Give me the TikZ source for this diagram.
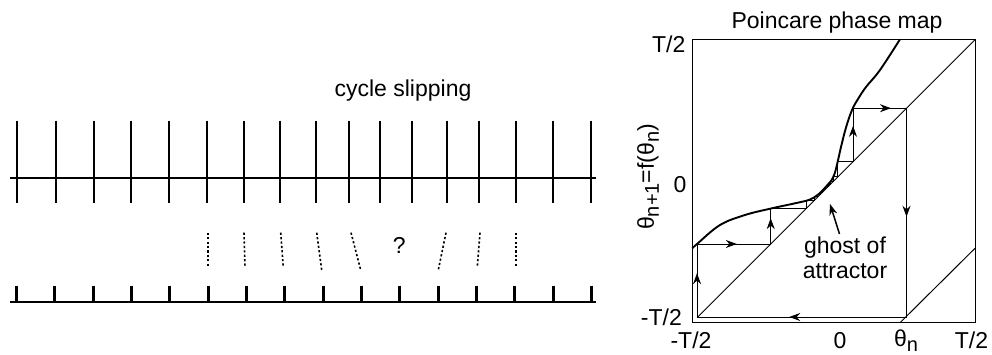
\documentclass[tikz,border=0pt]{standalone}
\usepackage{fontspec}
\setmainfont{Liberation Sans}
\usetikzlibrary{arrows.meta,decorations.markings}
\newcommand{\sbn}[1]{\raisebox{-0.22em}{\fontsize{20}{24}\selectfont #1}}
\begin{document}
\begin{tikzpicture}[x=1pt,y=-1pt,
  lbl/.style={font=\fontsize{23}{25}\selectfont, inner sep=0pt},
  topt/.style={line width=1.5pt},
  bott/.style={line width=3pt},
  baseln/.style={line width=1.3pt},
  dsh/.style={line width=1.6pt, dash pattern=on 2.2pt off 2.2pt},
  cob/.style={line width=1pt},
  boxln/.style={line width=1pt},
  curveln/.style={line width=1.9pt, line join=round},
  midarrow/.style={postaction={decorate}, decoration={markings, mark=at position #1 with {\arrow{Stealth[length=11pt,width=8pt]}}}}
]
\useasboundingbox (0,0) rectangle (992,355);

% ---------- left panel ----------
\node[lbl] (title1) at (403,91) {cycle slipping};

\draw[baseln] (10,178) -- (596,178);
\foreach \x in {17,56,94,131,169,207,244,280,316,349,380,412,447,479,516,553,591}
  \draw[topt] (\x,120.7) -- (\x,202.7);

\draw[baseln] (10,302) -- (596,302);
\foreach \x in {16,54,93,131,169,208,246,284,323,361,399,438,476,514,553,591}
  \draw[bott] (\x,285.7) -- (\x,302.5);

\draw[dsh] (208,232.7) -- (208,266.7);
\draw[dsh] (244,232.7) -- (245,266.7);
\draw[dsh] (280.7,232.7) -- (283.3,267.7);
\draw[dsh] (316.7,232.7) -- (321.7,270);
\draw[dsh] (351,232.7) -- (360.7,270);
\draw[dsh] (446,232.7) -- (438.3,270);
\draw[dsh] (480,232.7) -- (477.3,267);
\draw[dsh] (516,232.7) -- (516,267);
\node[lbl] (q) at (399.3,245) {?};

% ---------- right panel ----------
\node[lbl] (title2) at (837,23) {Poincare phase map};
\draw[boxln] (692.3,39.3) rectangle (975,322.7);

% axis labels
\node[lbl, anchor=east] (yT) at (685.5,44) {T/2};
\node[lbl, anchor=east] (y0) at (686.5,185) {0};
\node[lbl, anchor=east] (ymT) at (682,317.5) {-T/2};
\node[lbl] (xmT) at (691,340.5) {-T/2};
\node[lbl] (x0) at (840,340.5) {0};
\node[lbl] (xT) at (971.5,340.5) {T/2};
\node[lbl] (xth) at (906,341) {θ\sbn{n}};
\node[lbl, rotate=90] (ylab) at (648,177) {θ\sbn{n+1}=f(θ\sbn{n})};

% diagonal and wrapped branch
\draw[boxln] (697.4,317.3) -- (975,39.7);
\draw[boxln] (900,322.7) -- (975,248.3);

% the map
\draw[curveln] plot[smooth, tension=0.6] coordinates {
  (692.3,248.3) (697,244) (720,225) (745,215) (771,208.5) (795,203.3)
  (810,199.5) (820,193) (827,185.5) (831,181) (834.5,174) (837.5,162.5)
  (841,147) (846,127.5) (852,110) (858,99) (866,87) (880,70) (900,39.3)};

% cobweb
\coordinate (c0) at (697,317);
\coordinate (c1) at (697,244);
\coordinate (c2) at (770.7,244);
\coordinate (c3) at (770.7,208.6);
\coordinate (s1) at (853,161.7);
\coordinate (s2) at (853,108.2);
\coordinate (s3) at (906.5,108.2);
\coordinate (s4) at (906.5,317);

\draw[cob, midarrow=0.6] (c0) -- (c1);
\draw[cob, midarrow=0.54] (c1) -- (c2);
\draw[cob, midarrow=0.73] (c2) -- (c3);
\draw[cob] (c3) -- (806.1,208.6) -- (806.1,200.5) -- (814.2,200.5) -- (814.2,196.8)
  -- (817.9,196.8) -- (817.9,194.3) -- (820.4,194.3) -- (820.4,192.6) -- (822.1,192.6)
  -- (822.1,190.8) -- (823.9,190.8) -- (823.9,188.8) -- (825.9,188.8) -- (825.9,186.7)
  -- (828.0,186.7) -- (828.0,184.3) -- (830.4,184.3) -- (830.4,181.7) -- (833.0,181.7)
  -- (833.0,177.0) -- (837.7,177.0) -- (837.7,161.7) -- (s1);
\draw[cob, midarrow=0.67] (s1) -- (s2);
\draw[cob, midarrow=0.71] (s2) -- (s3);
\draw[cob, midarrow=0.52] (s3) -- (s4);
\draw[cob, midarrow=0.56] (s4) -- (c0);

% ghost of attractor
\node[lbl, align=center] (ghost) at (845,258) {ghost of\\attractor};
\coordinate (gtip) at (830,204);
\draw[line width=1.5pt, -{Stealth[length=11pt,width=8pt]}] (839.5,234) -- (gtip);
\end{tikzpicture}
\end{document}
